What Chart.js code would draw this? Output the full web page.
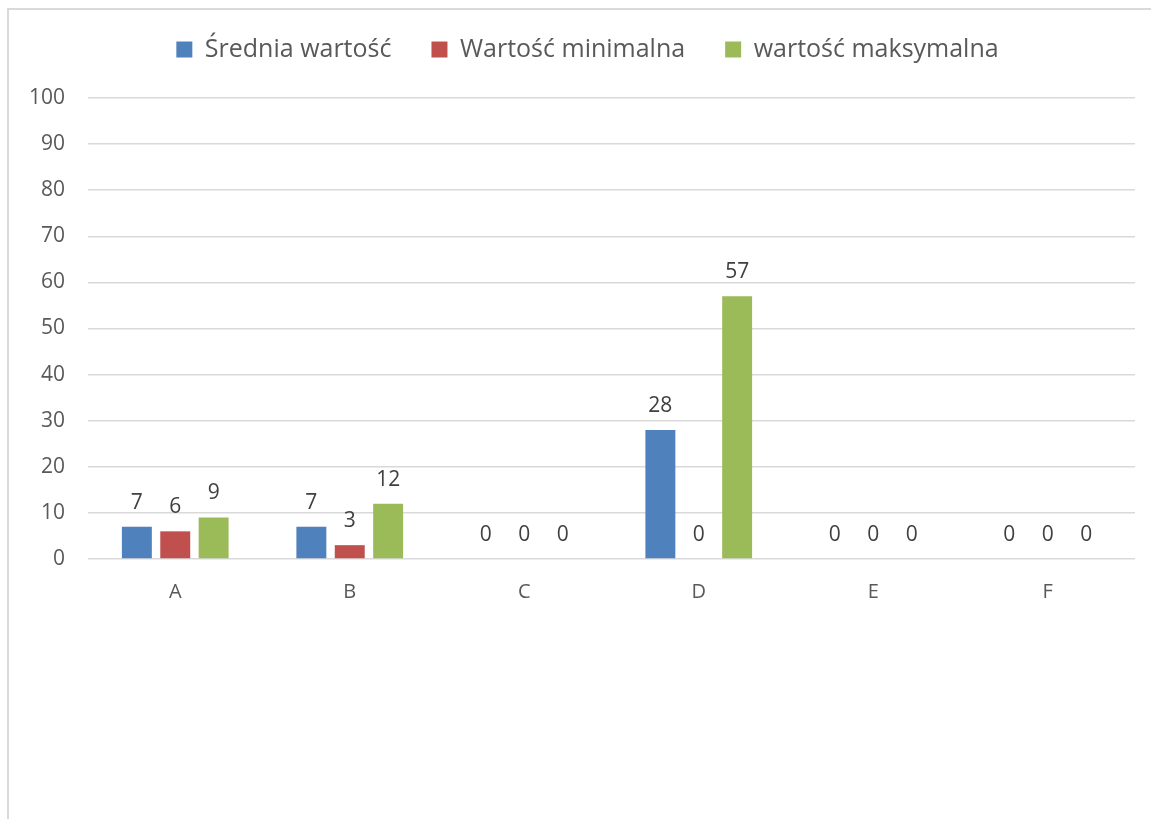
<!DOCTYPE html>
<html>
<head>
<meta charset="utf-8">
<script src="https://cdn.jsdelivr.net/npm/chart.js@4"></script>
<style>
  html, body { margin: 0; padding: 0; background: #fff; overflow: hidden; }
  #wrap { position: relative; width: 1151px; height: 819px; }
  #frame {
    position: absolute; left: 7px; top: 8px; width: 1200px; height: 900px;
    border: 2px solid #d9d9d9; box-sizing: border-box;
  }
  canvas { position: absolute; left: 0; top: 0; }
</style>
</head>
<body>
<div id="wrap">
  <div id="frame"></div>
  <canvas id="chart" width="1151" height="819"></canvas>
</div>
<script>
const categories = ['A', 'B', 'C', 'D', 'E', 'F'];
const seriesNames = ['Średnia wartość', 'Wartość minimalna', 'wartość maksymalna'];
const avgValues = [7, 7, 0, 28, 0, 0];
const minValues = [6, 3, 0, 0, 0, 0];
const maxValues = [9, 12, 0, 57, 0, 0];
const yTicks = [0, 10, 20, 30, 40, 50, 60, 70, 80, 90, 100];
const seriesColors = ['#4F81BD', '#C0504D', '#9BBB59'];

const FONT = "'Open Sans', 'DejaVu Sans', sans-serif";

// value labels above each bar, like Excel's "outside end"
const valueLabels = {
  id: 'valueLabels',
  afterDatasetsDraw(chart) {
    const { ctx } = chart;
    ctx.save();
    ctx.font = `21px ${FONT}`;
    ctx.fillStyle = '#404040';
    ctx.textAlign = 'center';
    ctx.textBaseline = 'middle';
    chart.data.datasets.forEach((ds, i) => {
      chart.getDatasetMeta(i).data.forEach((bar, j) => {
        ctx.fillText(String(ds.data[j]), bar.x, bar.y - 24);
      });
    });
    ctx.restore();
  }
};

// legend band: fixed height so the plot starts where Excel's does, nudged a bit right
const legendBand = {
  id: 'legendBand',
  beforeLayout(chart) {
    const lg = chart.legend;
    if (!lg || lg._banded) return;
    const fit = lg.fit;
    lg.fit = function () { fit.call(this); this.height = 98; };
    lg._banded = true;
  },
  afterLayout(chart) {
    const lg = chart.legend;
    if (!lg) return;
    lg.left += 20; lg.right += 20;
    lg.top -= 3; lg.bottom -= 3;
  }
};

const values = [avgValues, minValues, maxValues];

new Chart(document.getElementById('chart'), {
  type: 'bar',
  data: {
    labels: categories,
    datasets: seriesNames.map((name, i) => ({
      label: name,
      data: values[i],
      backgroundColor: seriesColors[i],
      borderWidth: 0,
      categoryPercentage: 0.66,
      barPercentage: 0.78
    }))
  },
  options: {
    responsive: false,
    animation: false,
    layout: { padding: { left: 0, right: 16, top: 0, bottom: 0 } },
    plugins: {
      tooltip: { enabled: false },
      legend: {
        position: 'top',
        labels: {
          font: { family: FONT, size: 25 },
          color: '#595959',
          boxWidth: 16,
          boxHeight: 16,
          padding: 40
        }
      }
    },
    scales: {
      x: {
        grid: { display: false },
        border: { display: false },
        ticks: { font: { family: FONT, size: 20 }, color: '#595959', padding: 13 },
        afterFit(scale) { scale.height = 260; }
      },
      y: {
        min: 0,
        max: 100,
        afterBuildTicks(scale) { scale.ticks = yTicks.map(v => ({ value: v })); },
        border: { display: false },
        grid: { color: '#d9d9d9', lineWidth: 1.5, drawTicks: false },
        ticks: { font: { family: FONT, size: 21 }, color: '#595959', padding: 23 },
        afterFit(scale) { scale.width = 88; }
      }
    }
  },
  plugins: [valueLabels, legendBand]
});
</script>
</body>
</html>
